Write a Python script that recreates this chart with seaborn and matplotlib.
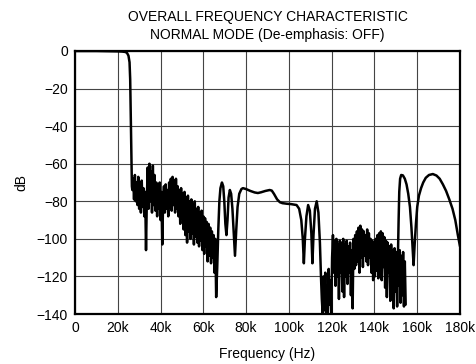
import matplotlib
matplotlib.use("Agg")
import matplotlib.pyplot as plt
import seaborn as sns
import pandas as pd

# ---------------- data (frequency in kHz, level in dB) ----------------
pass_freq = [0, 10, 20, 22, 23.5, 24.3, 25.0, 25.5, 25.8, 26.0, 26.2, 26.4, 26.6]
pass_db = [0, 0, -0.2, -0.3, -0.5, -1, -2.5, -6, -15, -30, -45, -60, -72]

stop1_freq = [26.8, 27.2, 27.6, 28.0, 28.4, 28.8, 29.2, 29.6, 30.0, 30.4, 30.8, 31.2, 31.6,
              32.0, 32.4, 32.8, 33.2, 33.6, 34.0, 34.4, 34.8, 35.2, 35.6, 36.0, 36.4, 36.8,
              37.2, 37.6, 38.0, 38.4, 38.8, 39.2, 39.6, 40.0, 40.4, 40.8, 41.2, 41.6, 42.0,
              42.4, 42.8, 43.2, 43.6, 44.0, 44.4, 44.8, 45.2, 45.6, 46.0, 46.4, 46.8, 47.2,
              47.6, 48.0, 48.4, 48.8, 49.2, 49.6, 50.0, 50.4, 50.8, 51.2, 51.6, 52.0, 52.4,
              52.8, 53.2, 53.6, 54.0, 54.4, 54.8, 55.2, 55.6, 56.0, 56.4, 56.8, 57.2, 57.6,
              58.0, 58.4, 58.8, 59.2, 59.6, 60.0, 60.4, 60.8, 61.2, 61.6, 62.0, 62.4, 62.8,
              63.2, 63.6, 64.0, 64.4, 64.8, 65.2, 65.6, 66.0]
stop1_db = [-74, -68, -79, -66, -80, -70, -82, -67, -84, -72, -86, -69, -83,
            -73, -88, -75, -106, -78, -62, -84, -60, -80, -64, -86, -61, -82,
            -66, -85, -70, -88, -72, -84, -70, -90, -75, -103, -80, -72, -86,
            -71, -84, -74, -88, -70, -83, -68, -85, -67, -82, -69, -86, -68,
            -84, -72, -88, -74, -92, -73, -89, -76, -95, -75, -98, -78, -102,
            -77, -96, -80, -100, -79, -97, -82, -103, -80, -99, -84, -102, -83,
            -104, -86, -101, -85, -106, -88, -108, -89, -104, -91, -112, -92, -109,
            -94, -113, -96, -110, -98, -118, -100, -131]

mid_freq = [66.5, 67.0, 67.5, 68.0, 68.7, 69.3, 69.8, 70.3, 70.8, 71.3, 71.8, 72.4, 73.0,
            73.6, 74.2, 74.8, 75.4, 76.0, 76.8, 77.8, 78.5, 80, 82, 84, 85.5, 87, 89,
            91, 92, 93, 94.5, 95.8, 97, 99, 101, 103.6, 104.8, 105.8, 106.5, 107.0,
            107.5, 108.2, 109.0, 109.8, 110.5, 111.0, 111.5, 112.2, 113.0, 113.8, 114.5,
            115.0]
mid_db = [-115, -95, -80, -73, -70, -72, -80, -92, -98, -90, -78, -74, -76,
          -84, -97, -109, -95, -83, -76, -73.5, -73, -73.5, -74.5, -75.3, -75.6, -75.2, -74.5,
          -74, -74.3, -76, -79, -80.5, -81, -81.3, -81.5, -82, -84, -90, -100, -113,
          -100, -88, -82, -85, -97, -113, -98, -84, -80, -86, -102, -120]

stop2_freq = [115.4, 115.8, 116.2, 116.6, 117.0, 117.4, 117.8, 118.2, 118.6, 119.0, 119.4,
              119.8, 120.2, 120.6, 121.0, 121.4, 121.8, 122.2, 122.6, 123.0, 123.4, 123.8,
              124.2, 124.6, 125.0, 125.4, 125.8, 126.2, 126.6, 127.0, 127.4, 127.8, 128.2,
              128.6, 129.0, 129.4, 129.8, 130.2, 130.6, 131.0, 131.4, 131.8, 132.2, 132.6,
              133.0, 133.4, 133.8, 134.2, 134.6, 135.0, 135.4, 135.8, 136.2, 136.6, 137.0,
              137.4, 137.8, 138.2, 138.6, 139.0, 139.4, 139.8, 140.2, 140.6, 141.0, 141.4,
              141.8, 142.2, 142.6, 143.0, 143.4, 143.8, 144.2, 144.6, 145.0, 145.4, 145.8,
              146.2, 146.6, 147.0, 147.4, 147.8, 148.2, 148.6, 149.0, 149.4, 149.8, 150.2,
              150.6, 151.0, 151.4, 151.8, 152.2, 152.6, 153.0, 153.4, 153.8, 154.2, 154.6]
stop2_db = [-132, -140, -120, -138, -118, -140, -125, -140, -116, -135, -122,
            -140, -110, -98, -118, -101, -125, -100, -120, -103, -132, -101,
            -118, -102, -128, -100, -131, -103, -120, -101, -124, -104, -118,
            -102, -130, -106, -137, -100, -116, -98, -114, -96, -112, -94,
            -118, -93, -110, -95, -115, -96, -109, -98, -112, -95, -114,
            -97, -110, -100, -118, -101, -122, -103, -120, -100, -117, -98,
            -121, -97, -112, -96, -122, -97, -115, -99, -126, -101, -131,
            -102, -118, -104, -133, -103, -122, -106, -137, -105, -128, -107,
            -136, -108, -125, -106, -134, -109, -130, -107, -136, -112, -135]

lobe_freq = [151.0, 151.3, 151.6, 152.0, 152.5, 153.3, 154.2, 155.0, 155.8, 156.6, 157.3,
             157.8, 158.3, 158.8, 159.4, 160.0, 160.8, 161.8, 162.8, 164.0, 165.5, 167.3,
             169.0, 170.5, 172.0, 173.5, 175.0, 176.5, 177.8, 179.0, 180.0]
lobe_db = [-108, -90, -75, -68, -66, -66.2, -68, -71, -76, -83, -94,
           -104, -114, -103, -92, -83, -77, -73, -70, -67.5, -66, -65.5,
           -66.3, -68, -71, -74.5, -79, -84, -90, -98, -104]

xtick_vals = [0, 20, 40, 60, 80, 100, 120, 140, 160, 180]
xtick_labels = ["0", "20k", "40k", "60k", "80k", "100k", "120k", "140k", "160k", "180k"]
ytick_vals = [0, -20, -40, -60, -80, -100, -120, -140]
ytick_labels = ["0", "\u221220", "\u221240", "\u221260", "\u221280", "\u2212100", "\u2212120", "\u2212140"]

# ---------------- plotting ----------------
sns.set_theme(style="white")
plt.rcParams["font.family"] = ["Liberation Sans", "DejaVu Sans"]

main = pd.DataFrame({
    "f": pass_freq + stop1_freq + mid_freq + stop2_freq,
    "db": pass_db + stop1_db + mid_db + stop2_db,
})
lobe = pd.DataFrame({"f": lobe_freq, "db": lobe_db})

fig = plt.figure(figsize=(4.76, 3.64), dpi=100)
ax = fig.add_axes([75 / 476, 1 - 314 / 364, (460 - 75) / 476, (314 - 51) / 364])

sns.lineplot(data=main, x="f", y="db", sort=False, estimator=None, color="black",
             linewidth=1.8, ax=ax)
sns.lineplot(data=lobe, x="f", y="db", sort=False, estimator=None, color="black",
             linewidth=1.8, ax=ax)

ax.set_xlim(0, 180)
ax.set_ylim(-140, 0)
ax.set_xticks(xtick_vals)
ax.set_xticklabels(xtick_labels)
ax.set_yticks(ytick_vals)
ax.set_yticklabels(ytick_labels)
ax.tick_params(axis="both", length=0, labelsize=10, colors="black", pad=5)
ax.grid(True, color="#444444", linewidth=0.8)
for s in ax.spines.values():
    s.set_color("black")
    s.set_linewidth(1.6)

ax.set_xlabel("Frequency (Hz)", fontsize=10, color="black", labelpad=9)
ax.set_ylabel("dB", fontsize=10, color="black", labelpad=6)
ax.set_title("OVERALL FREQUENCY CHARACTERISTIC\nNORMAL MODE (De-emphasis: OFF)",
             fontsize=10, color="black", pad=9, linespacing=1.35)

fig.savefig("out.png", dpi=100, facecolor="white")
